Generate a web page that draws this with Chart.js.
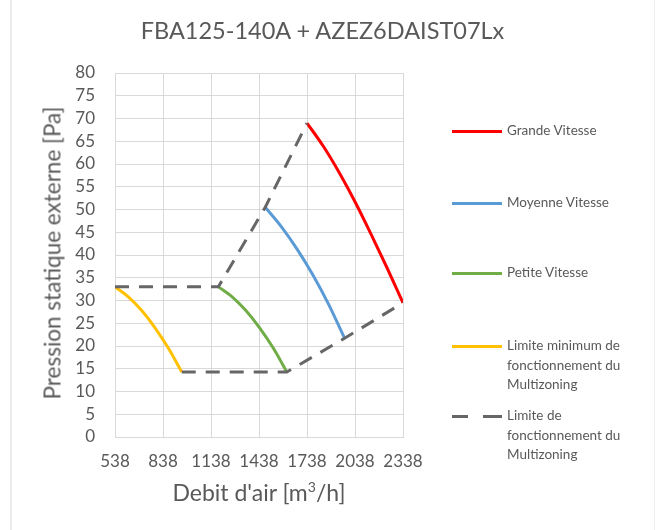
<!DOCTYPE html>
<html>
<head>
<meta charset="utf-8">
<script src="https://cdn.jsdelivr.net/npm/chart.js@4/dist/chart.umd.min.js"></script>
<style>
  body { margin: 0; background: #fff; font-family: Lato, "Open Sans", sans-serif; color: #595959; }
  #wrap { position: relative; width: 661px; height: 530px; }
  #wrap canvas { position: absolute; left: 0; top: 0; }
  .frame-l { position: absolute; left: 10px; top: 0; width: 2px; height: 530px; background: #ececec; }
  .frame-r { position: absolute; left: 654px; top: 0; width: 1px; height: 530px; background: #eeeeee; }
  .title { position: absolute; left: 0; width: 645px; top: 16px; text-align: center; font-size: 23.5px; }
  .ytitle { position: absolute; left: 52px; top: 253px; transform: translate(-50%, -50%) rotate(-90deg); white-space: nowrap; font-size: 22.5px; }
  .xtitle { position: absolute; left: 259px; top: 492px; transform: translate(-50%, -50%); white-space: nowrap; font-size: 23px; }
  .leg { position: absolute; left: 452px; font-size: 13.5px; line-height: 19.5px; }
  .leg .sw { position: absolute; left: 0; top: 9px; width: 50px; height: 3px; }
  .leg .tx { position: absolute; left: 55px; top: 0; width: 150px; }
</style>
</head>
<body>
<div id="wrap">
  <canvas id="chart" width="661" height="530"></canvas>
  <div class="frame-l"></div>
  <div class="frame-r"></div>
  <div class="title">FBA125-140A + AZEZ6DAIST07Lx</div>
  <div class="ytitle">Pression statique externe [Pa]</div>
  <div class="xtitle">Debit d'air [m<sup style="font-size:14px">3</sup>/h]</div>
  <div id="legend"></div>
</div>
<script>
// tick labels
const xTicks = [538, 838, 1138, 1438, 1738, 2038, 2338];
const yMin = 0, yMax = 80, yStep = 5;

// Grande Vitesse
const grandeX = [1738, 1838, 1938, 2038, 2138, 2238, 2338];
const grandeY = [69, 64, 58.2, 51.7, 44.6, 37.2, 29.5];
// Moyenne Vitesse
const moyenneX = [1477, 1576, 1676, 1775, 1874, 1973];
const moyenneY = [50.5, 46.3, 41.3, 35.6, 29.1, 21.7];
// Petite Vitesse
const petiteX = [1184, 1270, 1356, 1442, 1528, 1612];
const petiteY = [33, 30.8, 27.8, 24, 19.5, 14.3];
// Limite minimum de fonctionnement du Multizoning
const limiteMinX = [538, 621, 705, 788, 872, 955];
const limiteMinY = [33, 30.8, 27.8, 24, 19.5, 14.3];
// Limite de fonctionnement du Multizoning (haut / bas)
const limiteHautX = [538, 1184, 1477, 1738];
const limiteHautY = [33, 33, 50.5, 69];
const limiteBasX = [955, 1612, 1973, 2338];
const limiteBasY = [14.3, 14.3, 21.7, 29.5];

const legendItems = [
  { label: 'Grande Vitesse', color: '#ff0000', top: 121 },
  { label: 'Moyenne Vitesse', color: '#5b9bd5', top: 193 },
  { label: 'Petite Vitesse', color: '#70ad47', top: 263 },
  { label: 'Limite minimum de fonctionnement du Multizoning', color: '#ffc000', top: 336 },
  { label: 'Limite de fonctionnement du Multizoning', color: '#666666', top: 406, dashed: true }
];

const pts = (xs, ys) => xs.map((x, i) => ({ x: x, y: ys[i] }));

const curve = (data, color) => ({
  data: data, borderColor: color, borderWidth: 3, pointRadius: 0,
  showLine: true, cubicInterpolationMode: 'monotone', fill: false
});
const dashed = (data) => ({
  data: data, borderColor: '#666666', borderWidth: 3, pointRadius: 0,
  showLine: true, borderDash: [14, 10], tension: 0, fill: false
});

new Chart(document.getElementById('chart'), {
  type: 'scatter',
  data: {
    datasets: [
      dashed(pts(limiteHautX, limiteHautY)),
      dashed(pts(limiteBasX, limiteBasY)),
      curve(pts(grandeX, grandeY), '#ff0000'),
      curve(pts(moyenneX, moyenneY), '#5b9bd5'),
      curve(pts(petiteX, petiteY), '#70ad47'),
      curve(pts(limiteMinX, limiteMinY), '#ffc000')
    ]
  },
  options: {
    responsive: false,
    animation: false,
    layout: { padding: { left: 0, top: 73, right: 258, bottom: 0 } },
    plugins: { legend: { display: false }, title: { display: false }, tooltip: { enabled: false } },
    scales: {
      x: {
        type: 'linear', min: xTicks[0], max: xTicks[xTicks.length - 1],
        afterBuildTicks: s => { s.ticks = xTicks.map(v => ({ value: v })); },
        afterFit: s => { s.height = 530 - 437; },
        grid: { color: '#d9d9d9', drawTicks: false },
        border: { color: '#d9d9d9' },
        ticks: { autoSkip: false, maxRotation: 0, padding: 14, color: '#595959',
                 font: { family: 'Lato', size: 17 }, callback: v => String(v) }
      },
      y: {
        min: yMin, max: yMax,
        afterFit: s => { s.width = 115; },
        grid: { color: '#d9d9d9', drawTicks: false },
        border: { color: '#d9d9d9' },
        ticks: { stepSize: yStep, autoSkip: false, padding: 20, color: '#595959',
                 font: { family: 'Lato', size: 17 } }
      }
    }
  }
});

const legend = document.getElementById('legend');
legendItems.forEach(it => {
  const d = document.createElement('div');
  d.className = 'leg';
  d.style.top = it.top + 'px';
  const sw = it.dashed
    ? `<div class="sw" style="background:linear-gradient(90deg,${it.color} 0 16px,transparent 16px 31px,${it.color} 31px 50px)"></div>`
    : `<div class="sw" style="background:${it.color}"></div>`;
  d.innerHTML = sw + `<div class="tx">${it.label}</div>`;
  legend.appendChild(d);
});
</script>
</body>
</html>
